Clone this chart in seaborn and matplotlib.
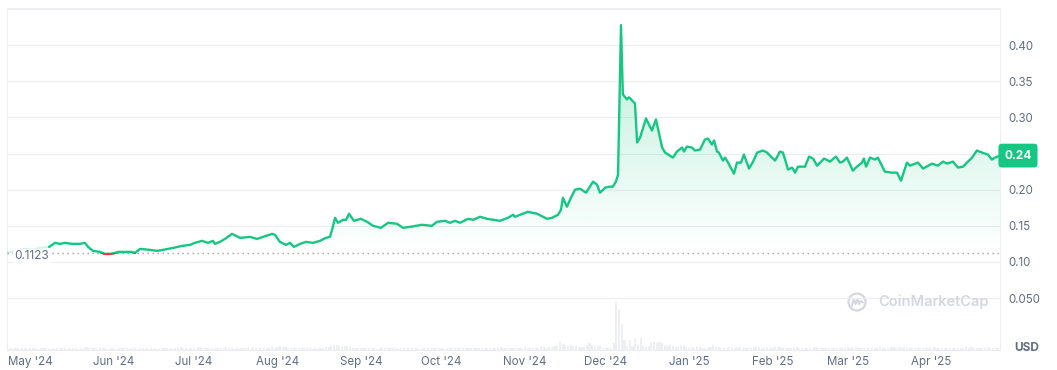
import numpy as np
import pandas as pd
import matplotlib
matplotlib.use("Agg")
import matplotlib.pyplot as plt
import matplotlib.dates as mdates
from matplotlib.patches import Polygon, Circle, Rectangle
from matplotlib.lines import Line2D
from matplotlib.colors import to_rgb
import seaborn as sns

# ---------------- data ----------------
START = pd.Timestamp("2024-04-22")

# faded lead-in segment (outside the highlighted range)
pre_days = [0.4, 3.4, 7.1, 10.1, 12.7, 15.7, 16.1]
pre_price = [0.1125, 0.1153, 0.1181, 0.1167, 0.1194, 0.1208, 0.1208]

# price (USD), day offsets from START
days = [16.1, 18.3, 20.2, 22.0, 24.6, 27.6, 29.4, 30.6, 32.4, 35.0,
        36.9, 38.7, 40.6, 41.7, 44.3, 46.9, 48.0, 49.9, 53.6, 56.2,
        58.4, 62.2, 65.5, 68.5, 70.3, 72.9, 75.2, 77.0, 77.8, 79.6,
        81.5, 84.1, 87.1, 90.8, 93.4, 95.6, 99.0, 100.1, 101.9, 104.2,
        105.7, 107.1, 109.4, 111.6, 114.2, 116.8, 119.0, 120.5, 121.3, 122.4,
        123.5, 125.4, 126.5, 127.6, 129.4, 132.0, 134.3, 136.5, 139.5, 142.1,
        145.4, 147.7, 150.3, 154.7, 158.4, 160.3, 163.3, 165.1, 167.0, 168.9,
        171.8, 173.7, 176.3, 178.9, 183.7, 186.7, 188.6, 189.3, 191.2, 194.1,
        197.5, 201.2, 203.1, 205.3, 206.4, 207.1, 208.6, 210.1, 211.6, 213.5,
        215.7, 218.3, 219.8, 220.9, 222.8, 224.6, 225.7, 226.8, 227.6, 228.7,
        229.4, 230.9, 231.7, 233.9, 234.7, 235.8, 238.0, 240.2, 241.7, 244.0,
        245.1, 248.0, 249.5, 251.4, 252.1, 253.2, 255.1, 256.2, 258.1, 259.9,
        261.0, 262.5, 263.3, 264.4, 265.1, 266.6, 267.4, 268.5, 270.7, 271.8,
        273.3, 274.4, 276.3, 277.8, 279.3, 281.5, 283.0, 284.8, 286.0, 287.8,
        288.9, 289.7, 290.8, 292.3, 293.4, 294.5, 297.1, 298.6, 300.1, 301.6,
        304.2, 306.4, 308.6, 310.1, 311.2, 312.7, 314.9, 316.4, 318.3, 319.0,
        319.8, 321.3, 323.1, 324.2, 326.8, 329.4, 331.3, 332.8, 335.0, 336.1,
        339.1, 341.0, 344.3, 346.5, 348.4, 349.9, 352.1, 354.0, 355.8, 357.3,
        359.2, 361.0, 362.9, 365.1, 366.6, 367.7, 369.6]
price = [0.1208, 0.1264, 0.1250, 0.1264, 0.1250, 0.1250, 0.1264, 0.1208, 0.1153, 0.1139,
         0.1111, 0.1111, 0.1125, 0.1139, 0.1139, 0.1139, 0.1125, 0.1181, 0.1167, 0.1153,
         0.1167, 0.1194, 0.1222, 0.1236, 0.1264, 0.1292, 0.1264, 0.1292, 0.1250, 0.1278,
         0.1319, 0.1389, 0.1333, 0.1347, 0.1319, 0.1347, 0.1389, 0.1375, 0.1278, 0.1236,
         0.1264, 0.1208, 0.1250, 0.1278, 0.1264, 0.1292, 0.1333, 0.1347, 0.1444, 0.1611,
         0.1542, 0.1583, 0.1583, 0.1667, 0.1569, 0.1597, 0.1556, 0.1500, 0.1472, 0.1542,
         0.1528, 0.1472, 0.1486, 0.1514, 0.1500, 0.1556, 0.1569, 0.1542, 0.1569, 0.1542,
         0.1597, 0.1583, 0.1625, 0.1597, 0.1569, 0.1611, 0.1653, 0.1625, 0.1653, 0.1694,
         0.1667, 0.1597, 0.1611, 0.1653, 0.1722, 0.1889, 0.1764, 0.1889, 0.2000, 0.2014,
         0.1958, 0.2111, 0.2069, 0.1958, 0.2028, 0.2042, 0.2042, 0.2111, 0.2208, 0.4278,
         0.3319, 0.3250, 0.3278, 0.3194, 0.2653, 0.2722, 0.2986, 0.2819, 0.2972, 0.2583,
         0.2514, 0.2444, 0.2528, 0.2583, 0.2528, 0.2597, 0.2583, 0.2542, 0.2556, 0.2694,
         0.2708, 0.2625, 0.2681, 0.2528, 0.2514, 0.2403, 0.2444, 0.2375, 0.2222, 0.2375,
         0.2375, 0.2486, 0.2292, 0.2389, 0.2514, 0.2542, 0.2514, 0.2444, 0.2403, 0.2528,
         0.2514, 0.2417, 0.2278, 0.2306, 0.2236, 0.2319, 0.2319, 0.2458, 0.2431, 0.2333,
         0.2431, 0.2389, 0.2458, 0.2375, 0.2389, 0.2444, 0.2264, 0.2319, 0.2375, 0.2431,
         0.2319, 0.2444, 0.2417, 0.2444, 0.2250, 0.2236, 0.2236, 0.2125, 0.2375, 0.2333,
         0.2375, 0.2292, 0.2361, 0.2333, 0.2389, 0.2361, 0.2389, 0.2306, 0.2319, 0.2375,
         0.2444, 0.2542, 0.2514, 0.2486, 0.2417, 0.2444, 0.2472]

baseline_price = 0.1123
baseline_label = "0.1123"
last_label = "0.24"

# daily volume (hundreds of millions USD), one value per day from START
volume = [4, 3, 4, 5, 4, 3, 4, 4, 3, 5,
          4, 4, 3, 4, 5, 4, 3, 3, 4, 4,
          5, 4, 4, 3, 4, 4, 5, 3, 4, 4,
          6, 5, 4, 4, 3, 5, 4, 4, 3, 4,
          4, 3, 4, 5, 4, 4, 3, 4, 4, 3,
          4, 5, 4, 3, 4, 4, 3, 3, 4, 5,
          4, 4, 3, 4, 5, 6, 4, 4, 3, 4,
          5, 4, 6, 5, 4, 4, 3, 4, 4, 5,
          4, 5, 6, 4, 4, 3, 4, 4, 5, 4,
          4, 3, 4, 4, 5, 4, 4, 4, 5, 6,
          5, 6, 8, 7, 6, 5, 4, 5, 4, 4,
          4, 5, 4, 4, 3, 4, 4, 5, 5, 6,
          7, 9, 11, 10, 8, 7, 9, 8, 6, 5,
          5, 4, 5, 4, 4, 5, 4, 4, 3, 4,
          4, 5, 4, 4, 5, 4, 3, 4, 4, 5,
          4, 4, 5, 4, 3, 4, 4, 5, 4, 4,
          5, 4, 4, 3, 4, 5, 4, 4, 5, 4,
          4, 5, 4, 4, 4, 5, 4, 4, 5, 4,
          5, 4, 4, 5, 6, 5, 4, 5, 4, 4,
          4, 5, 5, 6, 5, 4, 5, 4, 5, 6,
          6, 5, 6, 7, 8, 10, 16, 12, 10, 9,
          10, 9, 8, 6, 6, 7, 10, 14, 10, 9,
          10, 8, 5, 4, 4, 5, 14, 96, 82, 52,
          20, 8, 20, 8, 22, 10, 24, 8, 7, 8,
          16, 16, 15, 16, 14, 10, 9, 10, 8, 7,
          6, 8, 10, 6, 5, 6, 5, 6, 7, 5,
          5, 6, 6, 10, 7, 6, 5, 5, 4, 6,
          5, 4, 5, 6, 5, 4, 5, 5, 6, 7,
          6, 5, 4, 6, 5, 5, 6, 7, 6, 5,
          5, 5, 4, 5, 6, 5, 4, 5, 4, 4,
          5, 6, 5, 4, 5, 4, 5, 4, 4, 5,
          4, 4, 5, 6, 5, 4, 7, 5, 4, 4,
          5, 4, 5, 4, 4, 6, 5, 5, 4, 6,
          6, 5, 7, 5, 6, 5, 4, 5, 4, 4,
          4, 5, 4, 4, 5, 6, 5, 4, 4, 5,
          4, 4, 5, 4, 5, 4, 5, 6, 5, 6,
          5, 5, 4, 5, 4, 6, 5, 4, 4, 5]

y_ticks = [0.05, 0.10, 0.15, 0.20, 0.25, 0.30, 0.35, 0.40, 0.45]
y_labels = ["0.050", "0.10", "0.15", "0.20", "", "0.30", "0.35", "0.40", ""]

# ---------------- style ----------------
GREEN = "#16c784"
RED = "#ea3943"
GRID = "#eceef2"
TXT = "#616e85"

sns.set_theme(style="white")
plt.rcParams["font.family"] = ["Inter", "DejaVu Sans"]

W, H = 1057, 370
fig = plt.figure(figsize=(W / 100, H / 100), dpi=100, facecolor="white")
ax = fig.add_axes([7 / W, 20 / H, 993 / W, 342 / H])
ax2 = ax.twinx()
ax.set_zorder(2)
ax2.set_zorder(1)
ax.patch.set_visible(False)

df = pd.DataFrame({"date": START + pd.to_timedelta(days, unit="D"), "price": price})
pre = pd.DataFrame({"date": START + pd.to_timedelta(pre_days, unit="D"), "price": pre_price})
vol_dates = pd.date_range(START, periods=len(volume), freq="D")

# volume bars
ax2.bar(vol_dates, volume, width=0.8, color="#edeff3", linewidth=0)
ax2.set_ylim(0, max(volume) * 342 / 48)
ax2.axis("off")

# price line
sns.lineplot(data=pre, x="date", y="price", ax=ax, color=GREEN, alpha=0.18, lw=1.6, zorder=4)
sns.lineplot(data=df, x="date", y="price", ax=ax, color=GREEN, lw=1.7, zorder=5)
sns.lineplot(data=df, x="date", y="price", ax=ax, color=RED, lw=1.7, zorder=6)
red_line = ax.lines[-1]

xn = mdates.date2num(df["date"])
x0 = mdates.date2num(START + pd.Timedelta(days=0.45))
x1 = mdates.date2num(START + pd.Timedelta(days=369.6))
ylo, yhi = -0.0219, 0.4515

clip_rect = Rectangle((x0, ylo), x1 - x0, baseline_price - ylo,
                      transform=ax.transData, fc="none", ec="none")
red_line.set_clip_path(clip_rect)

# gradient fill between line and baseline
pr = np.array(price)
verts = np.column_stack([np.r_[xn, xn[-1], xn[0]], np.r_[pr, baseline_price, baseline_price]])
poly = Polygon(verts, closed=True, fc="none", ec="none")
ax.add_patch(poly)
grad = np.zeros((256, 1, 4))
grad[..., :3] = to_rgb(GREEN)
grad[:, 0, 3] = np.linspace(0.0, 0.30, 256)
im = ax.imshow(grad, extent=[xn[0], xn[-1], baseline_price, pr.max()],
               origin="lower", aspect="auto", zorder=2, interpolation="bilinear")
im.set_clip_path(poly)
ax.fill_between(df["date"], pr, baseline_price, where=pr < baseline_price,
                interpolate=True, color=RED, alpha=0.08, lw=0, zorder=2)

# baseline dotted
ax.axhline(baseline_price, color="#9aa3b5", lw=1.0, ls=(0, (1, 2.6)), zorder=3)
ax.annotate(baseline_label, xy=(0, baseline_price), xycoords=("axes fraction", "data"),
            xytext=(7, -3), textcoords="offset pixels", ha="left", va="center",
            fontsize=8.5, color=TXT, zorder=7,
            bbox=dict(boxstyle="square,pad=0.12", fc="white", ec="none"))

# last-price badge
ax.annotate(last_label, xy=(1, price[-1]), xycoords=("axes fraction", "data"),
            xytext=(18, 0), textcoords="offset pixels", ha="center", va="center",
            fontsize=8.5, fontweight="bold", color="white", annotation_clip=False, zorder=10,
            bbox=dict(boxstyle="round,pad=0.5,rounding_size=0.3", fc=GREEN, ec="none"))

# axes
ax.set_xlim(x0, x1)
ax.set_ylim(ylo, yhi)
ax.set_xlabel("")
ax.set_ylabel("")
ax.yaxis.tick_right()
ax.set_yticks(y_ticks)
ax.set_yticklabels(y_labels)
ax.tick_params(axis="y", length=0, pad=6, labelsize=8.3, labelcolor=TXT)
ax.xaxis.set_major_locator(mdates.MonthLocator())
ax.xaxis.set_major_formatter(mdates.DateFormatter("%b '%y"))
ax.tick_params(axis="x", length=0, pad=4, labelsize=8.3, labelcolor=TXT)
ax.grid(axis="y", color=GRID, lw=0.75)
ax.grid(axis="x", visible=False)
for s in ax.spines.values():
    s.set_visible(True)
    s.set_color(GRID)
    s.set_linewidth(0.75)

fig.text(1027 / W, 1 - 348 / H, "USD", ha="center", va="center",
         fontsize=8.5, fontweight="bold", color=TXT)

# watermark
WM = "#d3d8e0"
fig.text(878 / W, 1 - 302 / H, "CoinMarketCap", ha="left", va="center",
         fontsize=10.5, fontweight="semibold", color=WM)
cx, cy = 8.57, (H - 302) / 100
fig.add_artist(Circle((cx, cy), 0.085, transform=fig.dpi_scale_trans,
                      fill=False, ec=WM, lw=1.6))
fig.add_artist(Line2D([cx - 0.05, cx - 0.035, cx - 0.015, cx + 0.0, cx + 0.02, cx + 0.035, cx + 0.06],
                      [cy - 0.04, cy + 0.03, cy - 0.02, cy + 0.03, cy - 0.02, cy + 0.01, cy - 0.005],
                      transform=fig.dpi_scale_trans, color=WM, lw=1.5))

fig.savefig("out.png", dpi=100, facecolor="white")
